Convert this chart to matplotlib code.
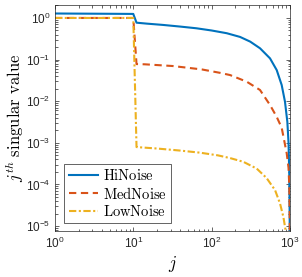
import matplotlib
matplotlib.use("Agg")
from matplotlib import pyplot as plt

# singular value index and values
j_hi = [1, 5, 10, 11, 15, 24, 40, 64, 100, 156, 231, 311, 415, 557, 678, 785, 865, 927, 960, 980, 992, 1000]
hi_noise = [1.28, 1.26, 1.25, 0.77, 0.73, 0.68, 0.62, 0.565, 0.50, 0.43, 0.35, 0.27, 0.187, 0.107, 0.056,
            0.0245, 0.0097, 0.0032, 0.001, 2e-4, 2e-5, 1e-6]

j_med = [1, 5, 10, 11, 14, 32, 75, 128, 172, 281, 415, 557, 678, 785, 910, 960, 982, 995, 1000]
med_noise = [1.0, 1.0, 1.0, 0.078, 0.077, 0.070, 0.058, 0.048, 0.0425, 0.0294, 0.0186, 0.0081, 0.0042,
             0.0023, 5.6e-4, 2.5e-4, 8.7e-5, 1.5e-5, 1e-6]

j_low = [1, 5, 10, 11, 20, 40, 71, 120, 172, 254, 377, 503, 646, 747, 824, 884, 920]
low_noise = [1.0, 1.0, 1.0, 7.9e-4, 7.3e-4, 6.5e-4, 5.8e-4, 5.0e-4, 4.3e-4, 3.5e-4, 2.4e-4, 1.43e-4,
             7.3e-5, 3.5e-5, 1.67e-5, 7.6e-6, 2e-6]

labels = ["HiNoise", "MedNoise", "LowNoise"]

plt.rcParams["font.family"] = ["Liberation Sans", "DejaVu Sans"]
plt.rcParams["mathtext.fontset"] = "cm"

fig = plt.figure(figsize=(3.02, 2.77), dpi=100)
ax = fig.add_axes([0.182, 0.166, 0.778, 0.816])

ax.loglog(j_hi, hi_noise, color="#0072BD", lw=1.5, ls="-", label=r"$\mathrm{%s}$" % labels[0])
ax.loglog(j_med, med_noise, color="#D95319", lw=1.5, ls=(0, (3.5, 2.2)), label=r"$\mathrm{%s}$" % labels[1])
ax.loglog(j_low, low_noise, color="#EDB120", lw=1.5, ls=(0, (3.5, 1.2, 1, 1.2)), label=r"$\mathrm{%s}$" % labels[2])

ax.set_xlim(1, 1000)
ax.set_ylim(7.6e-6, 2.05)

ax.tick_params(which="both", direction="in", top=True, right=True, colors="#262626",
               labelsize=8.5, width=0.5)
ax.tick_params(which="major", length=3)
ax.tick_params(which="minor", length=1.8)
for s in ax.spines.values():
    s.set_color("#262626")
    s.set_linewidth(0.5)

ax.set_xlabel(r"$j$", fontsize=12.5, labelpad=2)
ax.set_ylabel(r"$j^{th}\ \mathrm{singular\ value}$", fontsize=12, labelpad=0)

leg = ax.legend(loc="lower left", bbox_to_anchor=(0.04, 0.035), fontsize=10.5, fancybox=False,
                framealpha=1, edgecolor="#262626", handlelength=2.0, borderpad=0.3,
                labelspacing=0.15, handletextpad=0.35, borderaxespad=0)
leg.get_frame().set_linewidth(0.5)

fig.savefig("out.png", dpi=100)
